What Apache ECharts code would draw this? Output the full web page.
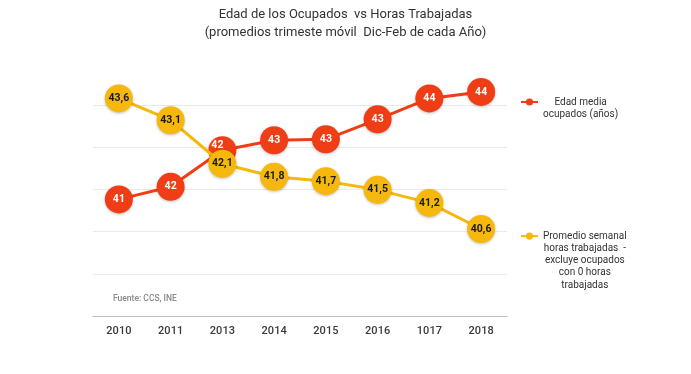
<!DOCTYPE html>
<html>
<head>
<meta charset="utf-8">
<script src="https://cdn.jsdelivr.net/npm/echarts@6/dist/echarts.min.js"></script>
<style>html,body{margin:0;padding:0;background:#fff}#c{width:691px;height:374px}</style>
</head>
<body>
<div id="c"></div>
<script>
const years = ['2010','2011','2013','2014','2015','2016','1017','2018'];
const edadMedia = [41.28, 41.57, 42.41, 42.64, 42.66, 43.12, 43.6, 43.75];
const horasSemanal = [43.6, 43.1, 42.1, 41.8, 41.7, 41.5, 41.2, 40.6];
const nameEdad = 'Edad media\nocupados (años)';
const nameHoras = 'Promedio semanal\nhoras trabajadas  -\nexcluye ocupados\ncon 0 horas\ntrabajadas';
const titleText = 'Edad de los Ocupados  vs Horas Trabajadas\n(promedios trimeste móvil  Dic-Feb de cada Año)';
const sourceText = 'Fuente: CCS, INE';

const RED = '#EF3E16';
const YEL = '#F6B80C';
const FONT = 'Roboto';

function richLines(name){
  return name.split('\n').map(l => '{c|' + l + '}').join('\n');
}

// red label at the crossing point is nudged up so it peeks above the yellow marker
const edadData = edadMedia.map((v, i) => i === 2 ? {value: v, label: {offset: [-5, -5]}} : v);

const chart = echarts.init(document.getElementById('c'), null, {renderer:'canvas'});
chart.setOption({
  animation: false,
  backgroundColor: '#fff',
  title: [{
    text: titleText,
    left: 'center',
    top: 6,
    padding: [0, 25, 0, 0],
    textStyle: {fontFamily: FONT, fontSize: 13, fontWeight: 'normal', color: '#333', lineHeight: 18}
  }, {
    text: sourceText,
    left: 113,
    top: 294,
    padding: 0,
    textStyle: {fontFamily: FONT, fontSize: 8.5, fontWeight: 500, color: '#8a8a8a'}
  }],
  legend: [{
    data: [nameEdad],
    left: 520,
    top: 97,
    padding: 0,
    itemWidth: 17,
    itemHeight: 9,
    itemGap: 0,
    formatter: richLines,
    textStyle: {fontFamily: FONT, fontSize: 10, color: '#333', padding: [12, 0, 0, 0],
      rich: {c: {align: 'center', fontFamily: FONT, fontSize: 10, color: '#333', lineHeight: 12}}}
  }, {
    data: [nameHoras],
    left: 520,
    top: 231,
    padding: 0,
    itemWidth: 17,
    itemHeight: 9,
    itemGap: 0,
    formatter: richLines,
    textStyle: {fontFamily: FONT, fontSize: 10, color: '#333', padding: [49, 0, 0, 0],
      rich: {c: {align: 'center', fontFamily: FONT, fontSize: 10, color: '#333', lineHeight: 12.3}}}
  }],
  grid: {left: 93, right: 184, top: 105, bottom: 58, containLabel: false},
  xAxis: {
    type: 'category',
    data: years,
    boundaryGap: true,
    axisLine: {show: true, lineStyle: {color: '#bdbdbd', width: 1}},
    axisTick: {show: false},
    axisLabel: {fontFamily: FONT, fontSize: 11, fontWeight: 500, color: '#3a3a3a', margin: 10}
  },
  yAxis: [{
    type: 'value',
    min: 0, max: 5, interval: 1,
    axisLine: {show: false}, axisTick: {show: false}, axisLabel: {show: false},
    splitLine: {show: true, lineStyle: {color: '#e9e9e9', width: 1}}
  }, {
    type: 'value',
    min: 38.6, max: 43.45,
    show: false,
    splitLine: {show: false}
  }],
  series: [{
    name: nameEdad,
    type: 'line',
    yAxisIndex: 1,
    z: 2,
    clip: false,
    data: edadData,
    symbol: 'circle',
    symbolSize: 28,
    lineStyle: {color: RED, width: 3},
    itemStyle: {color: RED, shadowBlur: 3, shadowColor: 'rgba(0,0,0,0.25)', shadowOffsetY: 1},
    label: {show: true, position: 'inside', color: '#fff', fontFamily: FONT, fontSize: 10.5, fontWeight: 'bold',
      formatter: p => Number(p.value).toFixed(0)}
  }, {
    name: nameHoras,
    type: 'line',
    yAxisIndex: 1,
    z: 3,
    clip: false,
    data: horasSemanal,
    symbol: 'circle',
    symbolSize: 28,
    lineStyle: {color: YEL, width: 3},
    itemStyle: {color: YEL, shadowBlur: 3, shadowColor: 'rgba(0,0,0,0.25)', shadowOffsetY: 1},
    label: {show: true, position: 'inside', color: '#1a1a1a', fontFamily: FONT, fontSize: 10.5, fontWeight: 'bold',
      formatter: p => Number(p.value).toFixed(1).replace('.', ',')}
  }]
});
</script>
</body>
</html>
